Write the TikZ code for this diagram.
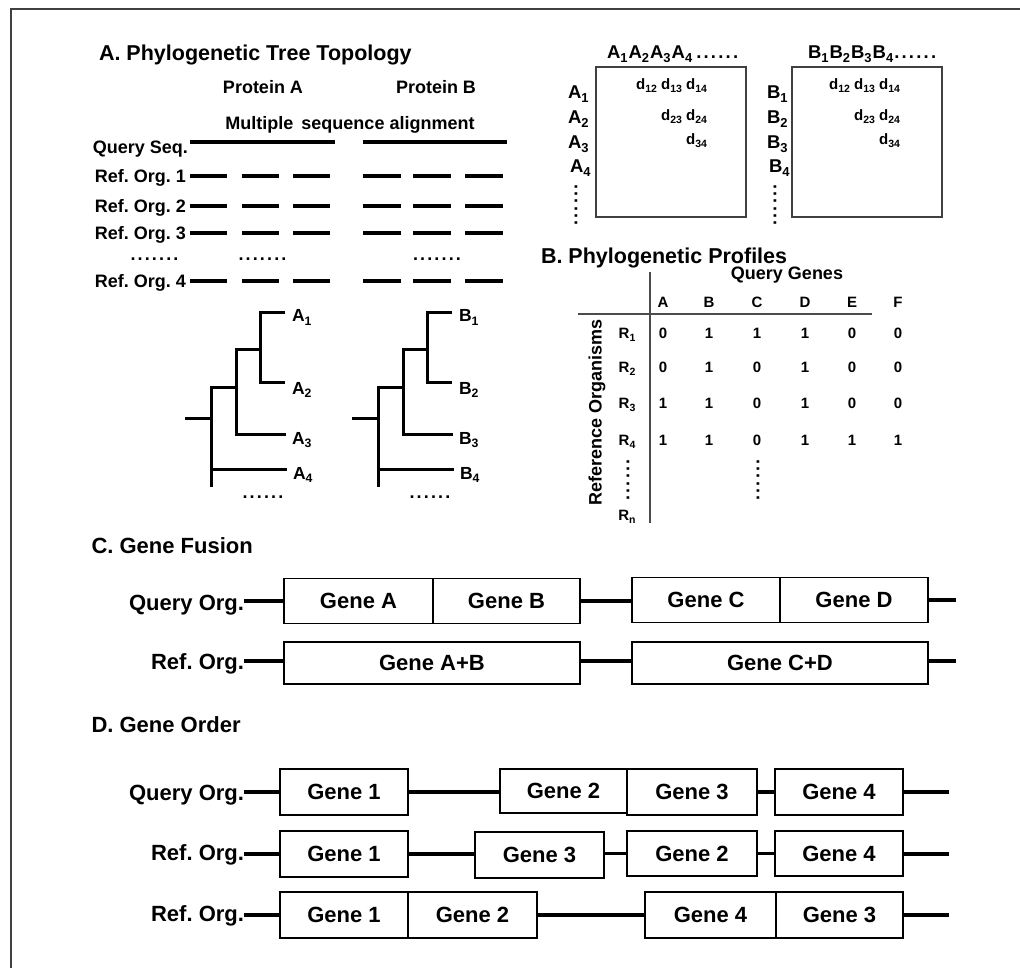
\documentclass[tikz,border=0pt]{standalone}
\usepackage{fontspec}
\setmainfont{Liberation Sans}
\usepackage{graphicx}
\newcommand\sbs[1]{\raisebox{-0.2em}{\scalebox{0.7}{#1}}}
\newcommand\fsz[1]{\fontsize{#1pt}{#1pt}\selectfont\bfseries\frenchspacing}
\newcommand\dotsx[1]{{\addfontfeatures{LetterSpace=12}#1}}
\begin{document}
\frenchspacing
\begin{tikzpicture}[x=1pt,y=-1pt,
  txt/.style={inner sep=0pt, outer sep=0pt, font=\fsz{18}},
  big/.style={txt, font=\fsz{22}},
  bar/.style={line width=4pt},
  branch/.style={line width=3pt},
  mbox/.style={draw=black!75, line width=1.3pt, inner sep=0pt, minimum width=150pt, minimum height=150pt},
  gene/.style={draw, line width=1.4pt, inner sep=0pt, font=\fsz{22}},
  conn/.style={line width=3.2pt},
  rulel/.style={line width=1.5pt, draw=black!70}]
\useasboundingbox (0,0) rectangle (1020,968);
\fill[white] (0,0) rectangle (1020,968);
\draw[line width=1.5pt, black!75] (11,968) -- (11,9) -- (1020,9);

% ---------- A ----------
\node[txt, font=\fsz{21.5}, anchor=base west] (tA) at (99,61) {A. Phylogenetic Tree Topology};
\node[txt, anchor=base] (pA) at (263,93.5) {Protein A};
\node[txt, anchor=base] (pB) at (436,93.5) {Protein B};
\node[txt, anchor=base] (msa) at (350,129.5) {Multiple\kern3pt{} sequence alignment};
\node[txt, anchor=base east] (qs) at (188,153.5) {Query Seq.};
\draw[bar] (190,142) -- (335,142);
\draw[bar] (363,142) -- (507,142);
\foreach \y/\n in {176/1,206/2,233/3,281/4}{
  \node[txt, anchor=base east] (ro\n) at (186,\y+6.6) {Ref. Org. \n};
  \foreach \a/\b in {190/227,242/279,293/330,363/401,413/451,465/503}
    \draw[bar] (\a,\y) -- (\b,\y);
}
\node[txt, anchor=base] (dr1) at (154.5,261) {\dotsx{.......}};
\node[txt, anchor=base] (dr2) at (262.5,261) {\dotsx{.......}};
\node[txt, anchor=base] (dr3) at (437,261) {\dotsx{.......}};

% trees
\foreach \s/\L in {0/A,167/B}{
\begin{scope}[xshift=\s pt]
  \draw[branch] (285,313) -- (260,313) -- (260,382) -- (285,382);
  \draw[branch] (260,349) -- (236,349) -- (236,434) -- (286,434);
  \draw[branch] (236,387) -- (211,387) -- (211,487);
  \draw[branch] (211,469) -- (287,469);
  \draw[branch] (185,418) -- (211,418);
  \node[txt, font=\fsz{17.5}, anchor=base west] (t\L1) at (292,322) {\L\sbs{1}};
  \node[txt, font=\fsz{17.5}, anchor=base west] (t\L2) at (292,394) {\L\sbs{2}};
  \node[txt, font=\fsz{17.5}, anchor=base west] (t\L3) at (292,444) {\L\sbs{3}};
  \node[txt, font=\fsz{17.5}, anchor=base west] (t\L4) at (293,479) {\L\sbs{4}};
  \node[txt, anchor=base] (td\L) at (263,498) {\dotsx{......}};
\end{scope}
}

% distance matrices
\node[mbox] (MA) at (671,142) {};
\node[mbox] (MB) at (867,142) {};
\node[txt, font=\fsz{18.5}, anchor=base west] (hA) at (607,59) {A\sbs{1}\kern1pt A\sbs{2}\kern1pt A\sbs{3}\kern1pt A\sbs{4}\kern4pt\dotsx{......}};
\node[txt, font=\fsz{18.5}, anchor=base west] (hB) at (808,59) {B\sbs{1}\kern1pt B\sbs{2}\kern1pt B\sbs{3}\kern1pt B\sbs{4}\kern1pt\dotsx{......}};
\foreach \L/\x/\dx in {A/568/707,B/767/900}{
  \node[txt, font=\fsz{18.5}, anchor=base west] (r\L1) at (\x,98.5) {\L\sbs{1}};
  \node[txt, font=\fsz{18.5}, anchor=base west] (r\L2) at (\x,123.5) {\L\sbs{2}};
  \node[txt, font=\fsz{18.5}, anchor=base west] (r\L3) at (\x,148.5) {\L\sbs{3}};
  \node[txt, font=\fsz{18.5}, anchor=base west] (r\L4) at (\x+2,172.5) {\L\sbs{4}};
  \node[txt, rotate=90] (rd\L) at (\x+8,205) {\dotsx{......}};
  \node[txt, font=\fsz{15}, anchor=base east] (d\L1) at (\dx,90) {d\sbs{12} d\sbs{13} d\sbs{14}};
  \node[txt, font=\fsz{15}, anchor=base east] (d\L2) at (\dx,121) {d\sbs{23} d\sbs{24}};
  \node[txt, font=\fsz{15}, anchor=base east] (d\L3) at (\dx,145) {d\sbs{34}};
}

% ---------- B ----------
\node[txt, font=\fsz{21.5}, anchor=base west] (tB) at (541,263.5) {B. Phylogenetic Profiles};
\draw[rulel] (650,272) -- (650,523);
\draw[rulel] (578,314) -- (872,314);
\node[txt, anchor=base] (qg) at (787,279.5) {Query Genes};
\foreach \x/\c in {663/A,709/B,757/C,805/D,852/E,898/F}
  \node[txt, font=\fsz{15}, anchor=base] (col\c) at (\x,307.4) {\c};
\foreach \y/\r/\va/\vb/\vc/\vd/\ve/\vf in {338.4/1/0/1/1/1/0/0, 372.4/2/0/1/0/1/0/0, 408.4/3/1/1/0/1/0/0, 445.4/4/1/1/0/1/1/1}{
  \node[txt, font=\fsz{15}, anchor=base] (R\r) at (627,\y) {R\sbs{\r}};
  \node[txt, font=\fsz{15}, anchor=base] at (663,\y) {\va};
  \node[txt, font=\fsz{15}, anchor=base] at (709,\y) {\vb};
  \node[txt, font=\fsz{15}, anchor=base] at (757,\y) {\vc};
  \node[txt, font=\fsz{15}, anchor=base] at (805,\y) {\vd};
  \node[txt, font=\fsz{15}, anchor=base] at (852,\y) {\ve};
  \node[txt, font=\fsz{15}, anchor=base] at (898,\y) {\vf};
}
\node[txt, rotate=90] (Rd) at (628,480) {\dotsx{......}};
\node[txt, rotate=90] (Cd) at (758,480) {\dotsx{......}};
\node[txt, font=\fsz{15}, anchor=base] (Rn) at (627,520) {R\sbs{n}};
\node[txt, rotate=90] (refo) at (597,412) {Reference Organisms};

% ---------- C ----------
\node[big, anchor=base west] (tC) at (91.5,553) {C. Gene Fusion};
\node[big, anchor=base east] (cq) at (244,610) {Query Org.};
\node[gene, minimum width=149pt, minimum height=45pt] (ga) at (358.5,601) {Gene A};
\node[gene, minimum width=147pt, minimum height=45pt] (gb) at (506.5,601) {Gene B};
\node[gene, minimum width=148pt, minimum height=45pt] (gc) at (706,600) {Gene C};
\node[gene, minimum width=148pt, minimum height=45pt] (gd) at (854,600) {Gene D};
\coordinate (cqe) at (956,600);
\draw[conn] (cq.east |- ga.west) -- (ga.west);
\draw[conn] (gb.east) -- (gc.west |- gb.east);
\draw[conn] (gd.east) -- (cqe);
\node[big, anchor=base east] (cr) at (244,669) {Ref. Org.};
\node[gene, minimum width=296pt, minimum height=42pt] (gab) at (432,663) {Gene A+B};
\node[gene, minimum width=296pt, minimum height=42pt] (gcd) at (780,663) {Gene C+D};
\coordinate (cre) at (956,661);
\draw[conn] (cr.east |- 0,661) -- (gab.west |- 0,661);
\draw[conn] (gab.east |- 0,661) -- (gcd.west |- 0,661);
\draw[conn] (gcd.east |- cre) -- (cre);

% ---------- D ----------
\node[big, anchor=base west] (tD) at (91.5,732.7) {D. Gene Order};
% row 1
\node[big, anchor=base east] (dq) at (244,800) {Query Org.};
\node[gene, minimum width=128pt, minimum height=46pt] (g11) at (344,792) {Gene 1};
\node[gene, minimum width=127pt, minimum height=44pt] (g12) at (563.5,791) {Gene 2};
\node[gene, minimum width=130pt, minimum height=46pt] (g13) at (692,792) {Gene 3};
\node[gene, minimum width=128pt, minimum height=46pt] (g14) at (839,792) {Gene 4};
\coordinate (d1e) at (949,792);
\draw[conn] (dq.east |- g11.west) -- (g11.west);
\draw[conn] (g11.east) -- (g12.west |- g11.east);
\draw[conn] (g13.east) -- (g14.west);
\draw[conn] (g14.east) -- (d1e);
% row 2
\node[big, anchor=base east] (dr) at (244,860) {Ref. Org.};
\node[gene, minimum width=128pt, minimum height=46pt] (g21) at (344,854) {Gene 1};
\node[gene, minimum width=129pt, minimum height=46pt] (g23) at (539.5,855) {Gene 3};
\node[gene, minimum width=130pt, minimum height=45pt] (g22) at (692,853.5) {Gene 2};
\node[gene, minimum width=128pt, minimum height=45pt] (g24) at (839,853.5) {Gene 4};
\coordinate (d2e) at (949,854);
\draw[conn] (dr.east |- g21.west) -- (g21.west);
\draw[conn] (g21.east) -- (g23.west |- g21.east);
\draw[conn] (g23.east |- g22.west) -- (g22.west);
\draw[conn] (g22.east) -- (g24.west);
\draw[conn] (g24.east |- d2e) -- (d2e);
% row 3
\node[big, anchor=base east] (ds) at (244,921) {Ref. Org.};
\node[gene, minimum width=128pt, minimum height=46pt] (g31) at (344,915) {Gene 1};
\node[gene, minimum width=129pt, minimum height=46pt] (g32) at (472.5,915) {Gene 2};
\node[gene, minimum width=131pt, minimum height=46pt] (g34) at (710.5,915) {Gene 4};
\node[gene, minimum width=127pt, minimum height=46pt] (g33) at (839.5,915) {Gene 3};
\coordinate (d3e) at (949,915);
\draw[conn] (ds.east |- g31.west) -- (g31.west);
\draw[conn] (g32.east) -- (g34.west);
\draw[conn] (g33.east) -- (d3e);
\end{tikzpicture}
\end{document}
